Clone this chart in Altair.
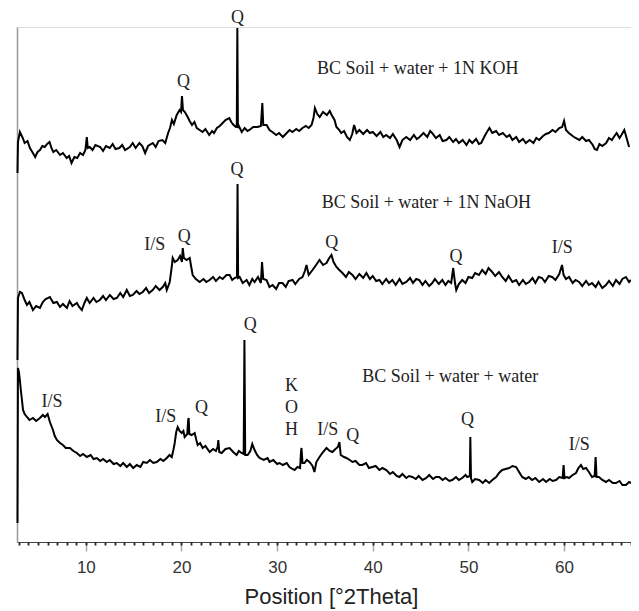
import altair as alt
import pandas as pd

# ---- trace data (2θ position, intensity in arbitrary units) ----
koh_pos = [2.85, 2.9, 3.1, 3.4, 3.6, 3.9, 4.15, 4.4, 4.7, 4.95, 5.2, 5.45, 5.7, 5.95, 6.2, 6.4, 6.6, 6.9, 7.3, 7.6,
           8.0, 8.25, 8.5, 8.8, 9.1, 9.4, 9.7, 9.95, 10.1, 10.2, 10.4, 10.7, 11.0, 11.5, 11.8, 12.1, 12.5, 12.8, 13.1, 13.5,
           13.8, 14.1, 14.6, 14.9, 15.2, 15.6, 15.9, 16.2, 16.5, 17.0, 17.3, 17.6, 18.0, 18.3, 18.6, 18.8, 19.0, 19.2, 19.5, 19.8,
           19.95, 20.05, 20.15, 20.35, 20.65, 20.85, 21.1, 21.35, 21.6, 21.9, 22.2, 22.5, 22.9, 23.2, 23.4, 23.7, 24.0, 24.3, 24.6, 25.0,
           25.2, 25.45, 25.7, 25.78, 25.84, 25.9, 26.0, 26.3, 26.6, 26.9, 27.1, 27.5, 27.95, 28.3, 28.45, 28.55, 28.9, 29.2, 29.5, 29.9,
           30.2, 30.6, 30.9, 31.3, 31.6, 32.0, 32.3, 32.65, 33.0, 33.3, 33.6, 33.8, 33.95, 34.2, 34.45, 34.8, 35.2, 35.5, 35.7, 36.0,
           36.2, 36.5, 36.7, 37.0, 37.3, 37.6, 37.85, 38.05, 38.3, 38.6, 39.0, 39.4, 39.7, 40.0, 40.4, 40.8, 41.1, 41.4, 41.8, 42.1,
           42.5, 42.8, 43.1, 43.5, 43.9, 44.3, 44.6, 44.9, 45.3, 45.7, 46.0, 46.2, 46.6, 47.0, 47.3, 47.7, 48.0, 48.4, 48.7, 49.0,
           49.4, 49.8, 50.1, 50.4, 50.8, 51.1, 51.34, 51.7, 52.0, 52.2, 52.5, 52.9, 53.2, 53.6, 54.0, 54.3, 54.6, 55.0, 55.3, 55.7,
           56.0, 56.4, 56.8, 57.1, 57.4, 57.8, 58.1, 58.4, 58.8, 59.1, 59.5, 59.8, 60.0, 60.2, 60.5, 60.9, 61.2, 61.6, 61.9, 62.3,
           62.6, 63.0, 63.2, 63.44, 63.7, 64.0, 64.4, 64.7, 65.0, 65.2, 65.5, 65.8, 66.0, 66.3, 66.6, 66.8]
koh_int = [369, 400, 410, 404, 399, 401, 394, 390, 385, 390, 392, 396, 395, 398, 400, 394, 390, 392, 387, 389,
           384, 386, 379, 385, 384, 389, 387, 392, 405, 394, 395, 392, 397, 395, 391, 396, 394, 398, 393, 394,
           397, 392, 395, 399, 394, 399, 396, 389, 396, 399, 395, 401, 402, 399, 409, 414, 422, 418, 427, 432,
           430, 446, 432, 430, 425, 421, 417, 420, 414, 412, 410, 413, 407, 411, 409, 414, 416, 419, 422, 424,
           420, 417, 415, 415, 514, 414, 416, 410, 414, 411, 412, 415, 415, 416, 439, 417, 417, 412, 410, 407,
           409, 405, 408, 412, 410, 413, 411, 414, 416, 414, 417, 424, 434, 428, 425, 430, 427, 431, 427, 422,
           415, 412, 409, 411, 405, 402, 408, 417, 409, 412, 408, 412, 409, 410, 406, 410, 405, 407, 404, 408,
           402, 395, 402, 405, 402, 407, 403, 405, 409, 405, 411, 409, 404, 407, 401, 402, 405, 400, 403, 399,
           402, 397, 402, 399, 403, 398, 399, 406, 411, 414, 409, 411, 407, 409, 405, 407, 402, 405, 400, 403,
           399, 402, 399, 404, 402, 406, 408, 409, 412, 410, 414, 415, 421, 412, 409, 406, 404, 402, 405, 401,
           402, 397, 393, 392, 398, 396, 399, 404, 402, 405, 409, 404, 407, 412, 402, 395]

naoh_pos = [2.85, 2.9, 3.1, 3.32, 3.6, 3.84, 4.1, 4.47, 4.8, 5.2, 5.5, 5.8, 6.24, 6.6, 6.97, 7.3, 7.6, 8.02, 8.3, 8.6,
            9.06, 9.3, 9.58, 9.85, 10.1, 10.4, 10.8, 11.1, 11.46, 11.8, 12.1, 12.51, 12.9, 13.24, 13.6, 13.9, 14.28, 14.6, 14.91, 15.3,
            15.6, 15.95, 16.3, 16.6, 16.99, 17.3, 17.7, 18.04, 18.3, 18.46, 18.77, 18.98, 19.08, 19.3, 19.6, 19.85, 20.05, 20.13, 20.25, 20.54,
            20.86, 21.0, 21.17, 21.5, 21.9, 22.3, 22.6, 22.94, 23.3, 23.6, 23.99, 24.3, 24.7, 25.03, 25.3, 25.55, 25.8, 25.86, 25.92, 26.08,
            26.4, 26.81, 27.1, 27.4, 27.64, 28.0, 28.3, 28.42, 28.55, 28.89, 29.2, 29.52, 29.9, 30.2, 30.56, 30.9, 31.2, 31.61, 31.9, 32.3,
            32.65, 32.9, 33.07, 33.3, 33.7, 34.0, 34.43, 34.8, 35.16, 35.45, 35.68, 35.9, 36.2, 36.5, 36.83, 37.2, 37.5, 37.87, 38.2, 38.6,
            39.0, 39.33, 39.7, 40.0, 40.35, 40.69, 41.0, 41.4, 41.7, 42.05, 42.4, 42.8, 43.1, 43.51, 43.9, 44.2, 44.55, 44.86, 45.2, 45.5,
            45.9, 46.22, 46.5, 46.9, 47.27, 47.6, 47.9, 48.2, 48.41, 48.6, 48.73, 49.0, 49.35, 49.7, 50.0, 50.4, 50.7, 51.1, 51.44, 51.8,
            52.1, 52.48, 52.8, 53.2, 53.53, 53.9, 54.2, 54.6, 54.99, 55.3, 55.7, 56.0, 56.35, 56.7, 57.0, 57.35, 57.7, 58.0, 58.4, 58.75,
            59.1, 59.5, 59.79, 59.95, 60.2, 60.52, 60.9, 61.2, 61.57, 61.9, 62.3, 62.6, 62.92, 63.3, 63.6, 64.0, 64.38, 64.7, 65.1, 65.43,
            65.8, 66.1, 66.47, 66.8, 66.99]
naoh_int = [182, 244, 250, 249, 242, 237, 240, 232, 236, 234, 240, 243, 245, 239, 240, 235, 238, 234, 241, 236,
            239, 235, 232, 239, 244, 239, 244, 240, 242, 246, 242, 247, 243, 244, 249, 245, 252, 246, 247, 251,
            248, 250, 254, 249, 252, 256, 252, 255, 259, 252, 260, 275, 284, 280, 282, 286, 280, 294, 284, 282,
            284, 276, 267, 263, 260, 263, 260, 262, 265, 261, 265, 263, 267, 267, 262, 264, 265, 358, 264, 265,
            259, 262, 257, 263, 260, 265, 259, 280, 263, 262, 255, 257, 253, 259, 259, 255, 261, 262, 258, 263,
            265, 271, 277, 267, 272, 276, 282, 277, 279, 284, 287, 280, 275, 272, 269, 265, 270, 267, 263, 268,
            264, 269, 263, 266, 261, 262, 258, 263, 259, 262, 257, 263, 258, 260, 264, 259, 263, 262, 257, 261,
            256, 259, 263, 258, 262, 257, 261, 259, 274, 259, 252, 258, 262, 259, 265, 264, 269, 267, 272, 268,
            274, 270, 266, 270, 265, 261, 266, 260, 262, 257, 262, 258, 260, 264, 259, 265, 264, 260, 266, 265,
            262, 268, 277, 267, 263, 265, 259, 262, 260, 256, 261, 257, 259, 255, 260, 254, 257, 261, 256, 262,
            258, 263, 265, 260, 262]

water_pos = [2.85, 2.9, 3.0, 3.1, 3.22, 3.32, 3.43, 3.6, 3.84, 4.1, 4.47, 4.8, 5.2, 5.5, 5.72, 6.0, 6.24, 6.4, 6.56, 6.75,
             6.97, 7.3, 7.6, 7.9, 8.33, 8.7, 9.06, 9.4, 9.7, 10.1, 10.5, 10.8, 11.15, 11.5, 11.8, 12.19, 12.5, 12.9, 13.24, 13.6,
             13.9, 14.28, 14.6, 14.95, 15.32, 15.7, 16.0, 16.37, 16.7, 17.05, 17.41, 17.8, 18.1, 18.46, 18.75, 18.98, 19.15, 19.29, 19.45, 19.6,
             19.8, 20.02, 20.2, 20.33, 20.6, 20.7, 20.75, 20.82, 21.06, 21.38, 21.55, 21.69, 21.95, 22.21, 22.5, 22.94, 23.3, 23.6, 23.78, 23.85,
             23.95, 24.2, 24.6, 25.03, 25.4, 25.76, 26.0, 26.28, 26.5, 26.58, 26.66, 26.91, 27.2, 27.4, 27.64, 27.9, 28.16, 28.6, 29.0, 29.21,
             29.6, 30.0, 30.25, 30.6, 31.0, 31.29, 31.6, 31.82, 32.13, 32.4, 32.5, 32.55, 32.65, 32.86, 33.1, 33.38, 33.7, 33.9, 34.1, 34.43,
             34.8, 35.16, 35.5, 35.78, 36.1, 36.35, 36.51, 36.65, 37.0, 37.24, 37.6, 37.87, 38.2, 38.6, 38.91, 39.3, 39.6, 39.96, 40.3, 40.7,
             41.0, 41.42, 41.8, 42.1, 42.5, 42.78, 43.1, 43.5, 43.8, 44.13, 44.5, 44.8, 45.2, 45.6, 45.9, 46.3, 46.6, 46.95, 47.3, 47.6,
             48.0, 48.31, 48.7, 49.0, 49.35, 49.7, 49.87, 50.15, 50.2, 50.27, 50.4, 50.7, 51.13, 51.5, 51.8, 52.17, 52.5, 52.9, 53.2, 53.53,
             53.9, 54.26, 54.6, 54.99, 55.3, 55.62, 56.0, 56.3, 56.66, 57.0, 57.4, 57.8, 58.12, 58.5, 58.8, 59.16, 59.5, 59.85, 59.95, 60.05,
             60.3, 60.52, 60.9, 61.25, 61.5, 61.77, 62.0, 62.3, 62.6, 62.92, 63.2, 63.3, 63.4, 63.65, 64.0, 64.38, 64.7, 65.1, 65.43, 65.8,
             66.1, 66.47, 66.8, 67.0]
water_int = [19, 174, 170, 162, 150, 142, 132, 128, 125, 122, 124, 121, 124, 127, 125, 128, 120, 116, 112, 106,
             102, 99, 97, 94, 94, 91, 89, 86, 88, 85, 87, 83, 84, 81, 83, 80, 82, 78, 79, 76,
             79, 75, 78, 74, 77, 75, 80, 79, 82, 79, 80, 83, 81, 84, 87, 85, 92, 99, 110, 115,
             111, 109, 111, 105, 108, 122, 124, 108, 107, 109, 102, 97, 99, 94, 96, 90, 93, 91, 95, 102,
             90, 89, 93, 94, 90, 87, 91, 89, 88, 202, 87, 87, 91, 98, 92, 87, 84, 82, 84, 80,
             82, 78, 79, 77, 79, 75, 73, 72, 75, 74, 91, 94, 79, 79, 82, 80, 76, 70, 80, 85,
             90, 94, 91, 90, 93, 95, 100, 87, 85, 84, 82, 80, 81, 77, 77, 79, 74, 75, 76, 72,
             74, 72, 68, 70, 66, 65, 68, 64, 66, 65, 63, 66, 62, 64, 67, 63, 65, 65, 62, 64,
             61, 62, 65, 62, 64, 67, 65, 66, 105, 64, 60, 63, 62, 59, 62, 59, 62, 65, 69, 72,
             73, 74, 76, 75, 70, 65, 63, 65, 62, 64, 60, 63, 60, 63, 61, 62, 65, 64, 77, 64,
             65, 64, 67, 69, 74, 77, 73, 74, 70, 65, 66, 85, 65, 65, 62, 60, 62, 59, 59, 61,
             57, 57, 60, 59]

# ---- peak labels and sample names ----
label_text = ["Q", "Q", "BC Soil + water + 1N KOH",
              "BC Soil + water + 1N NaOH", "I/S", "Q", "Q", "Q", "Q", "I/S",
              "BC Soil + water + water", "I/S", "I/S", "Q", "Q", "K", "O", "H", "I/S", "Q", "Q", "I/S"]
label_pos = [25.85, 20.2, 44.7,
             45.6, 17.2, 20.3, 25.8, 35.7, 48.7, 59.8,
             48.1, 6.45, 18.35, 22.1, 27.2, 31.5, 31.5, 31.5, 35.3, 37.9, 49.9, 61.6]
label_int = [524, 460, 473,
             339, 297, 305, 372, 299, 285, 294,
             165, 140, 125, 134, 217, 156, 134, 112, 112, 106, 122, 97]

major_ticks = [10, 20, 30, 40, 50, 60]
minor_ticks = list(range(3, 68))

frames = []
for name, pos, inten in [("KOH", koh_pos, koh_int), ("NaOH", naoh_pos, naoh_int), ("water", water_pos, water_int)]:
    frames.append(pd.DataFrame({"sample": name, "pos": pos, "intensity": inten}))
traces = pd.concat(frames, ignore_index=True)
labels = pd.DataFrame({"text": label_text, "pos": label_pos, "intensity": label_int})

x_scale = alt.Scale(domain=[2.8, 67], nice=False, zero=False)
y_scale = alt.Scale(domain=[0, 515], nice=False, zero=True)

major_axis = alt.Axis(
    orient="bottom",
    values=major_ticks,
    title="Position [°2Theta]",
    titleFont="Liberation Sans", titleFontSize=22, titleFontWeight="normal", titleColor="#222",
    titleX=314, titleY=54, titleBaseline="middle", titleAnchor="middle",
    labelFont="Liberation Sans", labelFontSize=17, labelColor="#333",
    labelOverlap=False, labelFlush=False, labelPadding=8,
    tickSize=9, tickColor="#aaaaaa", tickWidth=1.5,
    domainColor="#444", domainWidth=1.2, grid=False,
)
minor_axis = alt.Axis(
    orient="bottom",
    values=minor_ticks,
    title=None, labels=False, domain=False, grid=False,
    tickSize=3, tickColor="#222222", tickWidth=1.8,
)
y_axis = alt.Axis(title=None, labels=False, ticks=False, grid=False, domainColor="#999", domainWidth=1.5)

lines = alt.Chart(traces).mark_line(color="black", strokeWidth=2, interpolate="linear").encode(
    x=alt.X("pos:Q", scale=x_scale, axis=major_axis),
    y=alt.Y("intensity:Q", scale=y_scale, axis=y_axis),
    detail="sample:N",
)

texts = alt.Chart(labels).mark_text(font="Liberation Serif", fontSize=18, color="#222",
                                    align="center", baseline="middle").encode(
    x=alt.X("pos:Q", scale=x_scale, axis=minor_axis),
    y=alt.Y("intensity:Q", scale=y_scale, axis=None),
    text="text:N",
)

chart = alt.layer(lines, texts).resolve_axis(x="independent", y="independent").properties(
    width=614, height=515,
    padding={"left": 9, "top": 19, "right": 0, "bottom": 69},
    autosize=alt.AutoSizeParams(type="none"),
).configure_view(stroke=None).configure(background="white")

chart.save("out.html", embed_options={"renderer": "svg", "actions": False})
